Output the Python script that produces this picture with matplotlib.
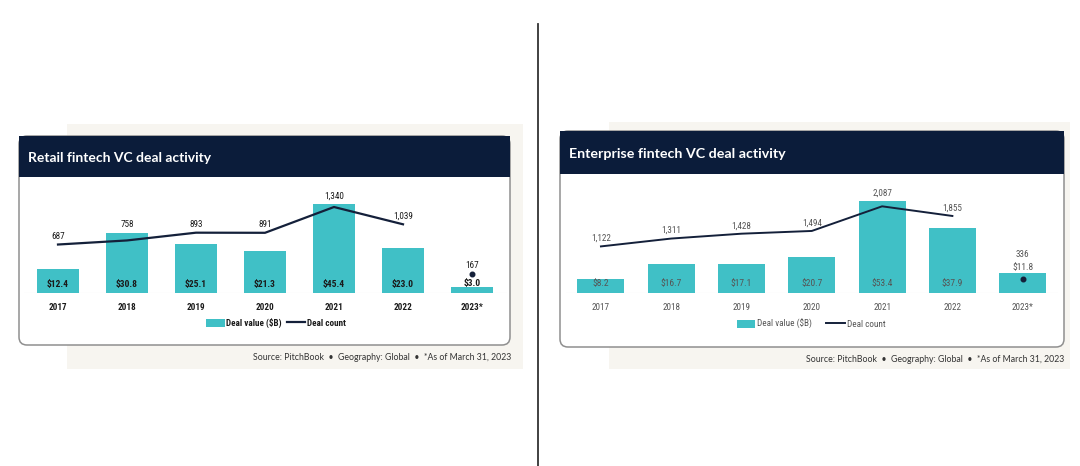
import matplotlib
matplotlib.use("Agg")
import matplotlib.pyplot as plt
from matplotlib.patches import Rectangle, FancyBboxPatch
from matplotlib.lines import Line2D

# ---- data ----
years = ["2017", "2018", "2019", "2020", "2021", "2022", "2023*"]
retail_value = [12.4, 30.8, 25.1, 21.3, 45.4, 23.0, 3.0]
retail_count = [687, 758, 893, 891, 1340, 1039, 167]
ent_value = [8.2, 16.7, 17.1, 20.7, 53.4, 37.9, 11.8]
ent_count = [1122, 1311, 1428, 1494, 2087, 1855, 336]

retail_title = "Retail fintech VC deal activity"
ent_title = "Enterprise fintech VC deal activity"
source_txt = "Source: PitchBook  \u2022  Geography: Global  \u2022  *As of March 31, 2023"

TEAL = "#40C0C6"
NAVY = "#0B1C3A"
LINE = "#14203A"
BEIGE = "#F7F5F0"

W, H = 1080, 466
fig = plt.figure(figsize=(W / 100, H / 100), dpi=100)
fig.patch.set_facecolor("white")


def px_box(x0, y0, x1, y1):
    # pixel box (top-left origin) -> figure fraction rect
    return [x0 / W, 1 - y1 / H, (x1 - x0) / W, (y1 - y0) / H]


# background layer in pixel coords
bg = fig.add_axes([0, 0, 1, 1])
bg.set_xlim(0, W)
bg.set_ylim(H, 0)
bg.axis("off")

# divider
bg.add_line(Line2D([538, 538], [24, 466], color="#333333", lw=1.3))

panels = [
    dict(beige=(67, 124, 523, 369), card=(19, 136, 510, 345), head=177,
         title=retail_title, title_x=28, src_x=511, src_y=358, tsize=10.0),
    dict(beige=(609, 122, 1070, 369), card=(560, 131, 1064, 347), head=174,
         title=ent_title, title_x=569, src_x=1064, src_y=360, tsize=10.3),
]
for p in panels:
    bx0, by0, bx1, by1 = p["beige"]
    bg.add_patch(Rectangle((bx0, by0), bx1 - bx0, by1 - by0, fc=BEIGE, ec="none"))
    cx0, cy0, cx1, cy1 = p["card"]
    bg.add_patch(FancyBboxPatch((cx0, cy0), cx1 - cx0, cy1 - cy0,
                                boxstyle="round,pad=0,rounding_size=8",
                                fc="white", ec="#8f8f8f", lw=1.1))
    bg.add_patch(Rectangle((cx0, cy0), cx1 - cx0, p["head"] - cy0, fc=NAVY, ec="none"))
    bg.text(p["title_x"], (cy0 + p["head"]) / 2 + 1, p["title"], color="white",
            fontsize=p["tsize"], fontweight="bold", family=["Lato", "DejaVu Sans"],
            ha="left", va="center")
    bg.text(p["src_x"], p["src_y"], source_txt, color="#333333", fontsize=6.3,
            family=["Lato", "DejaVu Sans"], ha="right", va="center")


def draw_chart(rect, values, counts, bar_w, vmax, cmin, cmax, font, bw, cw, tcolor,
               last_mode, legend_xy, line_lw, colsp):
    ax = fig.add_axes(rect)
    ax.patch.set_alpha(0)
    x = list(range(len(values)))
    ax.bar(x, values, width=bar_w, color=TEAL, zorder=2)
    ax.set_xlim(-0.5, len(values) - 0.5)
    ax.set_ylim(0, vmax)
    for s in ax.spines.values():
        s.set_visible(False)
    ax.axhline(0, color="#e3e3e3", lw=0.8, zorder=1)
    ax.set_yticks([])
    ax.set_xticks(x)
    ax.set_xticklabels(years, fontsize=6.6, family=font, fontweight=bw, color=tcolor)
    ax.tick_params(axis="x", length=0, pad=7)

    ax2 = ax.twinx()
    ax2.set_ylim(cmin, cmax)
    ax2.set_yticks([])
    for s in ax2.spines.values():
        s.set_visible(False)
    ax2.plot(x[:-1], counts[:-1], color=LINE, lw=line_lw, zorder=3)
    ax2.plot(x[-1], counts[-1], "o", color=LINE, ms=3.3, zorder=3)

    # scale factor between count axis and value axis
    k = (cmax - cmin) / vmax
    vtxt = dict(fontsize=6.8, family=font, fontweight=bw, color=tcolor,
                ha="center", va="center")
    ctxt = dict(fontsize=6.6, family=font, fontweight=cw, color=tcolor,
                ha="center", va="center")
    for i in x[:-1]:
        ax.annotate("${:.1f}".format(values[i]), (i, 0), xytext=(0, 9),
                    textcoords="offset pixels", **vtxt)
        top = max(counts[i], values[i] * k + cmin)
        ax2.annotate("{:,}".format(counts[i]), (i, top), xytext=(0, 8),
                     textcoords="offset pixels", **ctxt)
    i = x[-1]
    if last_mode == "retail":
        ax.annotate("${:.1f}".format(values[i]), (i, values[i]), xytext=(0, 4),
                    textcoords="offset pixels", **vtxt)
        ax2.annotate("{:,}".format(counts[i]), (i, counts[i]), xytext=(0, 9),
                     textcoords="offset pixels", **ctxt)
    else:
        ax.annotate("${:.1f}".format(values[i]), (i, values[i]), xytext=(0, 5),
                    textcoords="offset pixels", **vtxt)
        ax.annotate("{:,}".format(counts[i]), (i, values[i]), xytext=(0, 18),
                    textcoords="offset pixels", **ctxt)

    handles = [Rectangle((0, 0), 1, 1, fc=TEAL, ec="none"),
               Line2D([], [], color=LINE, lw=line_lw)]
    leg = fig.legend(handles, ["Deal value ($B)", "Deal count"], loc="center",
                     bbox_to_anchor=(legend_xy[0] / W, 1 - legend_xy[1] / H),
                     ncol=2, frameon=False, handlelength=2.0, handleheight=0.9,
                     handletextpad=0.2, columnspacing=colsp,
                     prop={"family": font, "size": 6.6, "weight": bw})
    for t in leg.get_texts():
        t.set_color(tcolor)
    return ax


narrow = ["Roboto Condensed", "Roboto", "DejaVu Sans"]

# retail: bars 23.5..506.5 px wide, baseline at y=293
draw_chart(px_box(23.5, 195, 506.5, 293), retail_value, retail_count, 0.62,
           50, -157, 1549, narrow, "bold", "normal", "#1a1a1a", "retail", (276, 323),
           1.6, 0.5)
# enterprise
draw_chart(px_box(565.8, 190, 1057.8, 293), ent_value, ent_count, 0.67,
           60, 0, 2480, narrow, "normal", "normal", "#555555", "ent", (811, 324),
           1.4, 1.6)

fig.savefig("out.png", dpi=100, facecolor="white")
